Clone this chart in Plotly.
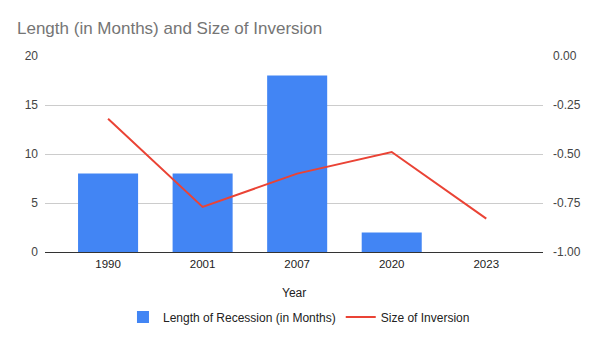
import plotly.graph_objects as go

years = ["1990", "2001", "2007", "2020", "2023"]
recession_months = [8, 8, 18, 2, 0]
inversion_size = [-0.32, -0.77, -0.60, -0.49, -0.83]
left_ticks = [0, 5, 10, 15, 20]
right_ticks = [-1.0, -0.75, -0.5, -0.25, 0.0]

FONT = "Liberation Sans, Arial, sans-serif"

fig = go.Figure()
fig.add_trace(go.Bar(
    x=years, y=recession_months, name="Length of Recession (in Months)",
    marker=dict(color="#4285F4", line=dict(width=0)), width=0.635,
))
fig.add_trace(go.Scatter(
    x=years, y=inversion_size, name="Size of Inversion", yaxis="y2",
    mode="lines", line=dict(color="#EA4335", width=2),
))

fig.update_layout(
    width=600, height=341,
    margin=dict(l=45, r=57, t=56, b=89, autoexpand=False),
    paper_bgcolor="white", plot_bgcolor="white",
    font=dict(family=FONT, size=11, color="#444444"),
    title=dict(text="Length (in Months) and Size of Inversion",
               x=17/600, xanchor="left", y=1-28/341, yanchor="middle",
               font=dict(family=FONT, size=17, color="#757575")),
    showlegend=True,
    legend=dict(orientation="h", x=0.51, xanchor="center",
                yref="container", y=1-317/341, yanchor="middle",
                font=dict(family=FONT, size=12, color="#222222"),
                traceorder="normal"),
    bargap=0.365,
    xaxis=dict(type="category", range=[-0.667, 4.6], showgrid=False,
               tickfont=dict(size=11.5, color="#222222"), ticks="", showline=False,
               ticklabelstandoff=3),
    yaxis=dict(range=[0, 20], tickvals=left_ticks, ticktext=[str(v) for v in left_ticks],
               showgrid=True, gridcolor="#CCCCCC", gridwidth=1,
               zeroline=True, zerolinecolor="#333333", zerolinewidth=1,
               tickfont=dict(size=12, color="#444444"), ticklabelstandoff=6),
    yaxis2=dict(range=[-1, 0], overlaying="y", side="right",
                tickvals=right_ticks, ticktext=[f"{v:.2f}" for v in right_ticks],
                showgrid=False, zeroline=False,
                tickfont=dict(size=12, color="#444444"), ticklabelstandoff=9),
    annotations=[dict(text="Year", xref="paper", yref="paper", x=0.5, y=-41/196,
                      xanchor="center", yanchor="middle", showarrow=False,
                      font=dict(family=FONT, size=12, color="#222222"))],
)

fig.write_html("out.html")
